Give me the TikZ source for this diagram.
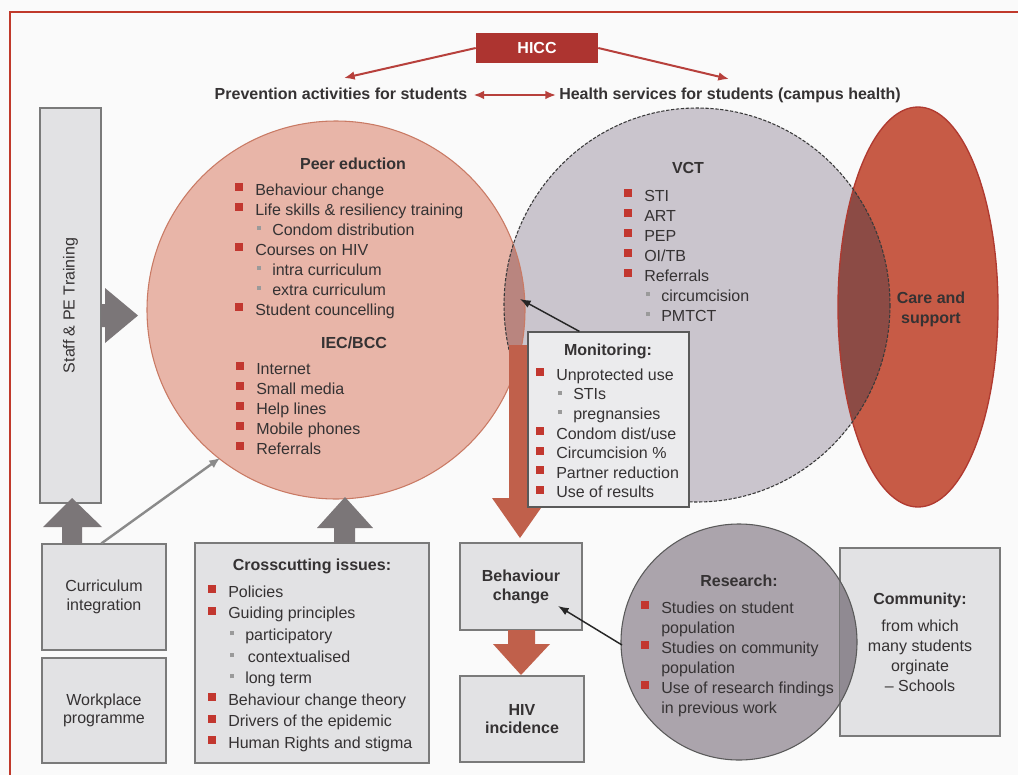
\documentclass[tikz,border=0pt]{standalone}
\usepackage{fontspec}
\setmainfont{Liberation Sans}
\usetikzlibrary{arrows.meta,calc}
\definecolor{bgc}{HTML}{FAFAFA}
\definecolor{txt}{HTML}{353233}
\definecolor{bulred}{HTML}{C2372F}
\definecolor{subgray}{HTML}{9A9A9A}
\definecolor{framered}{HTML}{C0392B}
\definecolor{hiccred}{HTML}{AD3430}
\definecolor{peerfill}{HTML}{E8B5A8}
\definecolor{peerline}{HTML}{C97A64}
\definecolor{vctfill}{HTML}{CAC5CD}
\definecolor{vctline}{HTML}{3A3A3A}
\definecolor{lensA}{HTML}{B9857F}
\definecolor{carefill}{HTML}{C75B46}
\definecolor{careline}{HTML}{B03A30}
\definecolor{lensB}{HTML}{8C4B45}
\definecolor{resfill}{HTML}{ABA4AC}
\definecolor{resline}{HTML}{5A5A5A}
\definecolor{lensC}{HTML}{908A92}
\definecolor{boxfill}{HTML}{E2E2E4}
\definecolor{monfill}{HTML}{EBEBED}
\definecolor{boxline}{HTML}{7A7A7A}
\definecolor{garrow}{HTML}{7B7678}
\definecolor{glinec}{HTML}{8A8A8A}
\definecolor{rarrow}{HTML}{C0604B}
\definecolor{harrow}{HTML}{B7403C}
\def\pxu{0.75pt}
\newcommand\bl[1]{\strut\makebox[15pt][l]{\textcolor{bulred}{\rule[3pt]{6pt}{6pt}}}#1}
\newcommand\sbl[1]{\strut\hspace*{16.5pt}\makebox[11.25pt][l]{\textcolor{subgray}{\rule[4pt]{3pt}{3pt}}}#1}
\newcommand\cl[1]{\strut\hspace*{15pt}#1}
\begin{document}
\begin{tikzpicture}[x=0.75pt,y=-0.75pt,
  every node/.style={text=txt},
  font=\fontsize{12}{15}\selectfont,
  gbox/.style={draw=boxline, fill=boxfill, line width=0.9pt, inner sep=0pt, align=center},
  ttl/.style={font=\fontsize{12}{15}\selectfont\bfseries, anchor=base, inner sep=0pt},
  blk/.style={anchor=north west, inner sep=0pt, align=left},
  harr/.style={draw=harrow, line width=1.5pt, -{Latex[length=8pt,width=6.5pt]}},
  karr/.style={draw=black!85, line width=1.1pt, -{Latex[length=8pt,width=6pt]}},
  garr/.style={draw=glinec, line width=1.8pt, -{Latex[length=8pt,width=7pt]}}]
\fill[bgc] (0,0) rectangle (1018,775);
\useasboundingbox (0,0) rectangle (1018,775);
\draw[framered, line width=1.5pt] (10,775) -- (10,12) -- (1018,12);

% top
\node[fill=hiccred, minimum width=122*\pxu, minimum height=30*\pxu, inner sep=0pt, text=white, font=\fontsize{12}{15}\selectfont\bfseries] (hicc) at (537,48) {HICC};
\node[ttl] (prev) at (341,99) {Prevention activities for students};
\node[ttl] (health) at (730,99) {Health services for students (campus health)};

% boxes
\node[gbox, rotate=90, minimum width=395*\pxu, minimum height=61*\pxu] (staff) at (70.5,305.5) {Staff \& PE Training};
\node[gbox, minimum width=124*\pxu, minimum height=106*\pxu, font=\fontsize{12}{14}\selectfont] (cur) at (104,597) {Curriculum\\integration};
\node[gbox, minimum width=124*\pxu, minimum height=105*\pxu, font=\fontsize{12}{14}\selectfont] (work) at (104,710.5) {Workplace\\programme};
\node[gbox, minimum width=234*\pxu, minimum height=220*\pxu] (cross) at (312,653) {};
\node[gbox, minimum width=122*\pxu, minimum height=87*\pxu, font=\fontsize{12}{14.3}\selectfont\bfseries] (beh) at (521,586.5) {Behaviour\\change};
\node[gbox, minimum width=124*\pxu, minimum height=86*\pxu, font=\fontsize{12}{14}\selectfont\bfseries] (hiv) at (522,719) {HIV\\incidence};
\node[gbox, minimum width=160*\pxu, minimum height=188*\pxu] (comm) at (920,642) {\textbf{Community:}\\[5.25pt]from which\\many students\\orginate\\– Schools};

% circles
\fill[peerfill] (336,310) circle [radius=189];
\fill[vctfill] (697,305) ellipse [x radius=193, y radius=197];
\fill[carefill] (918,307) ellipse [x radius=80, y radius=200];
\begin{scope}
\clip (336,310) circle [radius=189];
\fill[lensA] (697,305) ellipse [x radius=193, y radius=197];
\end{scope}
\begin{scope}
\clip (697,305) ellipse [x radius=193, y radius=197];
\fill[lensB] (918,307) ellipse [x radius=80, y radius=200];
\end{scope}
\draw[peerline, line width=0.8pt] (336,310) circle [radius=189];
\draw[careline, line width=1pt] (918,307) ellipse [x radius=80, y radius=200];
\draw[vctline, line width=0.8pt, dash pattern=on 2.5pt off 1.2pt] (697,305) ellipse [x radius=193, y radius=197];

% gray block arrows
\fill[garrow] (101,304) -- (105,304) -- (105,288) -- (138,315.5) -- (105,343) -- (105,327) -- (101,327) -- cycle;
\fill[garrow] (62,544) -- (62,527) -- (43,527) -- (72,498) -- (102,527) -- (82,527) -- (82,544) -- cycle;
\fill[garrow] (334,543) -- (334,528) -- (317,528) -- (345,497) -- (373,528) -- (355,528) -- (355,543) -- cycle;

% red block arrows
\fill[rarrow] (509,345) -- (509,498) -- (492,498) -- (520,538) -- (548,498) -- (532,498) -- (532,345) -- cycle;
\fill[rarrow] (508,630) -- (508,644) -- (493,644) -- (521,675) -- (550,644) -- (535,644) -- (535,630) -- cycle;

% monitoring box
\node[gbox, draw=black!65, fill=monfill, minimum width=161*\pxu, minimum height=175*\pxu] (mon) at (608.5,419.5) {};

% research circle
\fill[resfill] (739,642) circle [radius=118];
\begin{scope}
\clip (comm.south west) rectangle (comm.north east);
\fill[lensC] (739,642) circle [radius=118];
\end{scope}
\draw[boxline, line width=0.9pt] (comm.south west) rectangle (comm.north east);
\draw[resline, line width=0.8pt] (739,642) circle [radius=118];

% titles
\node[ttl] (peerT) at (353,169) {Peer eduction};
\node[ttl] (iecT) at (354,348) {IEC/BCC};
\node[ttl] (vctT) at (688,173) {VCT};
\node[ttl] (monT) at (608,355) {Monitoring:};
\node[ttl] (crossT) at (312,570) {Crosscutting issues:};
\node[ttl] (resT) at (739,586) {Research:};
\node[align=center, inner sep=0pt, font=\fontsize{12}{15}\selectfont\bfseries] (careT) at (931,309) {Care and\\support};

% bullet blocks
\node[blk] (peerL) at (235,181) {\bl{Behaviour change}\\\bl{Life skills \& resiliency training}\\\sbl{Condom distribution}\\\bl{Courses on HIV}\\\sbl{intra curriculum}\\\sbl{extra curriculum}\\\bl{Student councelling}};
\node[blk] (iecL) at (236,360) {\bl{Internet}\\\bl{Small media}\\\bl{Help lines}\\\bl{Mobile phones}\\\bl{Referrals}};
\node[blk] (vctL) at (624,187) {\bl{STI}\\\bl{ART}\\\bl{PEP}\\\bl{OI/TB}\\\bl{Referrals}\\\sbl{circumcision}\\\sbl{PMTCT}};
\node[blk, font=\fontsize{12}{14.7}\selectfont] (monL) at (536,366.3) {\bl{Unprotected use}\\\sbl{STIs}\\\sbl{pregnansies}\\\bl{Condom dist/use}\\\bl{Circumcision \%}\\\bl{Partner reduction}\\\bl{Use of results}};
\node[blk, font=\fontsize{12}{16.2}\selectfont] (crossL) at (208,581.9) {\bl{Policies}\\\bl{Guiding principles}\\\sbl{participatory}\\\sbl{\,contextualised}\\\sbl{long term}\\\bl{Behaviour change theory}\\\bl{Drivers of the epidemic}\\\bl{Human Rights and stigma}};
\node[blk] (resL) at (641,599) {\bl{Studies on student}\\\cl{population}\\\bl{Studies on community}\\\cl{population}\\\bl{Use of research findings}\\\cl{in previous work}};

% thin connectors
\coordinate (prevTip) at (344,78);
\coordinate (healthTip) at (729,79);
\draw[harr] (hicc.west) -- (prevTip);
\draw[harr] (hicc.east) -- (healthTip);
\draw[harr, {Latex[length=8pt,width=6.5pt]}-{Latex[length=8pt,width=6.5pt]}] ($(prev.base east)+(6,-4)$) -- ($(health.base west)+(-3,-4)$);
\coordinate (lensTip) at (520,299);
\draw[karr] ($(mon.north west)+(52,0)$) -- (lensTip);
\coordinate (resW) at (622,645);
\coordinate (behTip) at (558,606);
\draw[karr] (resW) -- (behTip);
\coordinate (peerTip) at (220,458);
\draw[garr] ($(cur.north west)+(60,0)$) -- (peerTip);
\end{tikzpicture}
\end{document}
